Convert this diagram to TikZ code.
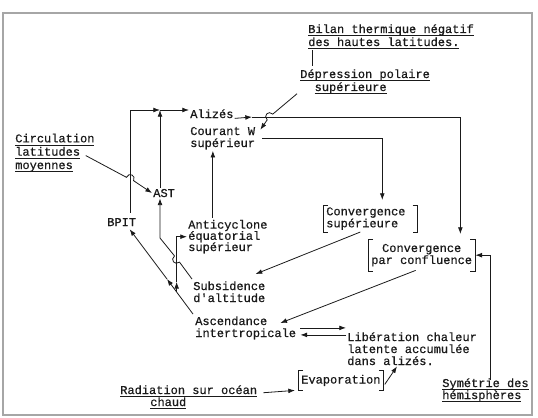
\documentclass[tikz,border=0pt]{standalone}
\usepackage{fontspec}
\newfontfamily\typew{Liberation Mono}[FakeBold=0.6]
\usetikzlibrary{arrows.meta,positioning,calc}
\definecolor{ink}{HTML}{1A1A1A}
\newcommand\ul[1]{\setbox0\hbox{#1}\rlap{\smash{\rule[-2.2pt]{\wd0}{0.5pt}}}\box0}
\newcommand\brackets[1]{%
  \draw[link] ($(#1.north west)+(5,0)$) -- (#1.north west) -- (#1.south west) -- ($(#1.south west)+(5,0)$);
  \draw[link] ($(#1.north east)+(-5,0)$) -- (#1.north east) -- (#1.south east) -- ($(#1.south east)+(-5,0)$);}
\tikzset{
  lbl/.style={font=\typew\fontsize{9}{9}\selectfont, text=ink, inner sep=0.75pt, align=left, anchor=base west},
  ulbl/.style={lbl, font=\typew\fontsize{9}{9.75}\selectfont},
  boxed/.style={font=\typew\fontsize{9}{9}\selectfont, text=ink, inner xsep=2.25pt, inner ysep=1.5pt, anchor=north west},
  link/.style={line width=0.6pt, draw=ink},
  arr/.style={link, -{Latex[length=5pt,width=3.6pt]}},
}
\begin{document}
\begin{tikzpicture}[x=0.75pt,y=0.75pt,yscale=-1,xscale=1]
\useasboundingbox (0,0) rectangle (538,417);
\draw[gray!70, line width=0.9pt] (3,13) rectangle (532,415);

% Text Node
\node[ulbl] (bilan) at (307,46) {\ul{Bilan thermique négatif}\\\ul{des hautes latitudes.}};
% Text Node
\node[ulbl] (depr) at (299,91) {\ul{Dépression polaire}\\\hspace*{1.2em}\ul{supérieure}};
% Text Node
\node[lbl] (alizes) at (189,118) {Alizés};
% Text Node
\node[lbl] (courant) at (189,147) {Courant W\\supérieur};
% Text Node
\node[ulbl, font=\typew\fontsize{9}{10}\selectfont] (circ) at (14,169) {\ul{Circulation}\\\ul{latitudes}\\\ul{moyennes}};
% Text Node
\node[lbl] (ast) at (152,197) {AST};
% Text Node
\node[lbl] (bpit) at (106,226) {BPIT};
% Text Node
\node[lbl, font=\typew\fontsize{9}{8.4}\selectfont] (anti) at (187,251) {Anticyclone\\équatorial\\supérieur};
% Text Node
\node[lbl] (subs) at (192,302) {Subsidence\\d'altitude};
% Text Node
\node[lbl] (asc) at (194,337) {Ascendance\\intertropicale};
% Text Node
\node[lbl] (lib) at (346,365) {Libération chaleur\\latente accumulée\\dans alizés.};
% Text Node
\node[lbl] (rad) at (119,406) {\ul{Radiation sur océan}\\\hspace*{2.5em}\ul{chaud}};
% Text Node
\node[lbl] (sym) at (441,399) {\ul{Symétrie des}\\\ul{hémisphères}};
% Bracketed Nodes
\node[boxed, text width=66pt, align=left] (conv1) at (323,205) {Convergence\\supérieure};
\node[boxed, align=center, inner ysep=3.5pt] (conv2) at (368,239) {Convergence\\par confluence};
\node[boxed, inner ysep=3.4pt] (evap) at (298,370) {Evaporation};
\brackets{conv1}
\brackets{conv2}
\brackets{evap}

% Coordinates
\coordinate (jn) at (160,110);
\coordinate (aj) at (252,117);
\coordinate (cj) at ($(conv2.north east)+(-15,-5)$);
\coordinate (ac) at ($(anti.north)+(-15,-1)$);
\coordinate (bd) at ($(bilan.south west)+(5,3)$);
\coordinate (bt) at ($(bpit.south)+(8,2)$);
\coordinate (br) at ($(asc.north west)!0.27!(bt)$);
\coordinate (dm) at ($(asc.north west)!0.42!(bt)$);
\coordinate (bm) at ($(br)+(0,-10)$);
\coordinate (sb) at (160,238);

%Straight Lines
\draw[link] (bd) -- ($(bd |- depr.north)+(0,-2)$);
%Arrows
\draw[arr] ($(bpit.north)+(9,-4)$) |- (jn);
\draw[arr] (jn) -- (jn -| alizes.west);
\draw[arr] (ast.north -| jn) -- (jn);
\draw[arr] ($(alizes.south east)+(0,-1)$) -- (aj);
\draw[arr] (aj) -| (cj);
\draw[arr] ($(depr.south west)+(-2,-1)$) -- (272.8,114.1) .. controls +(-4.3,-4.2) and +(-4.3,-4.2) .. (267.2,119.9) -- ($(courant.north east)+(4,4)$);
\draw[arr] ($(circ.east)+(-10,3)$) -- (126.4,177.3) .. controls +(2.6,-5.4) and +(2.6,-5.4) .. (133.6,180.7) -- (ast.west);
\draw[arr] (ac) -- (ac |- courant.south);
\draw[arr] ($(courant.east)+(6,0)$) -| ($(conv1.north)+(12,-5)$);
\draw[arr] ($(conv1.south)+(-10,0)$) -- ($(subs.north east)+(-11,-6)$);
\draw[arr] ($(conv2.south)+(-6,-1)$) -- ($(asc.north east)+(-17,8)$);
\draw[arr] ($(subs.north west)+(0,-1)$) -- (179.5,262.1) .. controls +(-4.7,3.75) and +(-4.7,3.75) .. (174.5,255.9) -- (sb) -- (ast.south -| jn);
\draw[arr] ($(asc.north west)+(-1,-1)$) -- (dm);
\draw[arr] (dm) -- (bt);
\draw[arr] (br) -- (bm);
\draw[arr] (bm) |- (anti.west);
\draw[arr] ($(asc.east)+(3,0)$) -- (asc.east -| lib.west);
\draw[arr] ($(asc.east -| lib.west)+(0,7)$) -- ($(asc.east)+(3,7)$);
\draw[arr] ($(rad.east)+(5,-3)$) -- ($(evap.west)+(-3,10)$);
\draw[arr] ($(evap.east)+(1,4)$) -- ($(lib.south west)+(51,0)$);
\draw[arr] ($(sym.north)+(5,3)$) |- (conv2.east);
\end{tikzpicture}
\end{document}
